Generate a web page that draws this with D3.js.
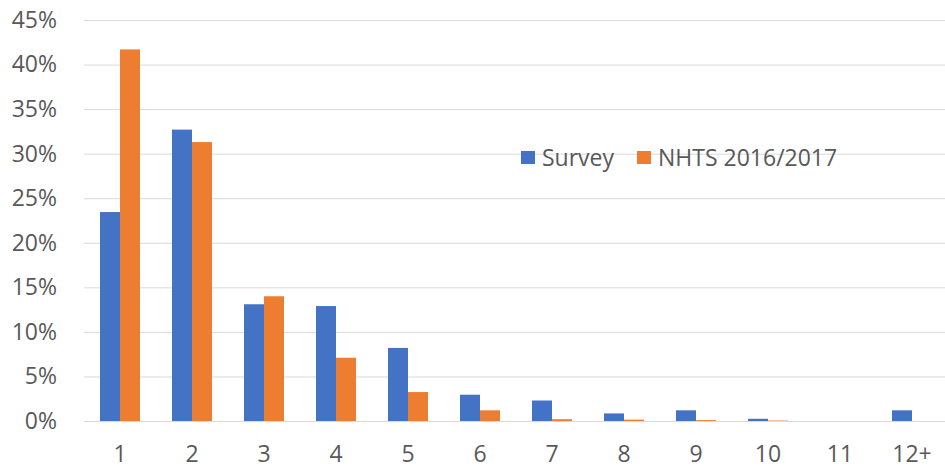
<!DOCTYPE html>
<html><head><meta charset="utf-8">
<script src="https://cdn.jsdelivr.net/npm/d3@7"></script>
<style>body{margin:0;background:#fff}svg{display:block}</style>
</head><body>
<svg id="c" width="945" height="470"></svg>
<script>
const categories = ["1","2","3","4","5","6","7","8","9","10","11","12+"];
const survey = [23.45, 32.7, 13.1, 12.9, 8.2, 2.95, 2.3, 0.85, 1.2, 0.25, 0, 1.2];
const nhts = [41.7, 31.3, 14.0, 7.1, 3.25, 1.2, 0.2, 0.15, 0.1, 0.05, 0, 0];
const seriesNames = ["Survey", "NHTS 2016/2017"];
const colors = ["#4472C4", "#ED7D31"];
const yTicks = [0,5,10,15,20,25,30,35,40,45];

const svg = d3.select("#c");
const m = {left:84, right:948, top:20, bottom:421};
const font = "'Open Sans', sans-serif";
const fs = "23px";
const x = d3.scaleBand().domain(categories).range([m.left, m.right]).paddingInner(0).paddingOuter(0);
const y = d3.scaleLinear().domain([0,45]).range([m.bottom, m.top]);
const step = x.bandwidth();
const barW = step * 20/72;

// gridlines
svg.append("g").selectAll("line").data(yTicks).join("line")
  .attr("x1", m.left).attr("x2", m.right)
  .attr("y1", d=>y(d)+0.5).attr("y2", d=>y(d)+0.5)
  .attr("stroke", "#D9D9D9").attr("stroke-width", 1);

// y axis labels
const yAxis = d3.axisLeft(y).tickValues(yTicks).tickFormat(d=>d+"%").tickSize(0).tickPadding(0);
const ya = svg.append("g").attr("transform", `translate(57,0)`).call(yAxis);
ya.select(".domain").remove();
ya.selectAll("text").attr("fill","#595959").style("font-family",font).style("font-size",fs);

// bars
const data = [survey, nhts];
data.forEach((vals, si) => {
  svg.append("g").selectAll("rect").data(vals.map((v,i)=>({v, c:categories[i]}))).join("rect")
    .attr("x", d => x(d.c) + step/2 - barW + si*barW)
    .attr("width", barW)
    .attr("y", d => y(d.v))
    .attr("height", d => y(0) - y(d.v))
    .attr("fill", colors[si]);
});

// x axis
const xAxis = d3.axisBottom(x).tickSize(0).tickPadding(0);
const xa = svg.append("g").attr("transform", `translate(0,${m.bottom})`).call(xAxis);
xa.select(".domain").remove();
xa.selectAll("text").attr("y", 25).attr("fill","#595959").style("font-family",font).style("font-size",fs);

// legend
const leg = svg.append("g");
const legX = [521, 637];
seriesNames.forEach((n, i) => {
  leg.append("rect").attr("x", legX[i]).attr("y", 151).attr("width", 14).attr("height", 13).attr("fill", colors[i]);
  leg.append("text").attr("x", legX[i]+21).attr("y", 158).attr("dy","0.35em")
    .attr("fill","#595959").style("font-family",font).style("font-size",fs).text(n);
});
</script>
</body></html>
